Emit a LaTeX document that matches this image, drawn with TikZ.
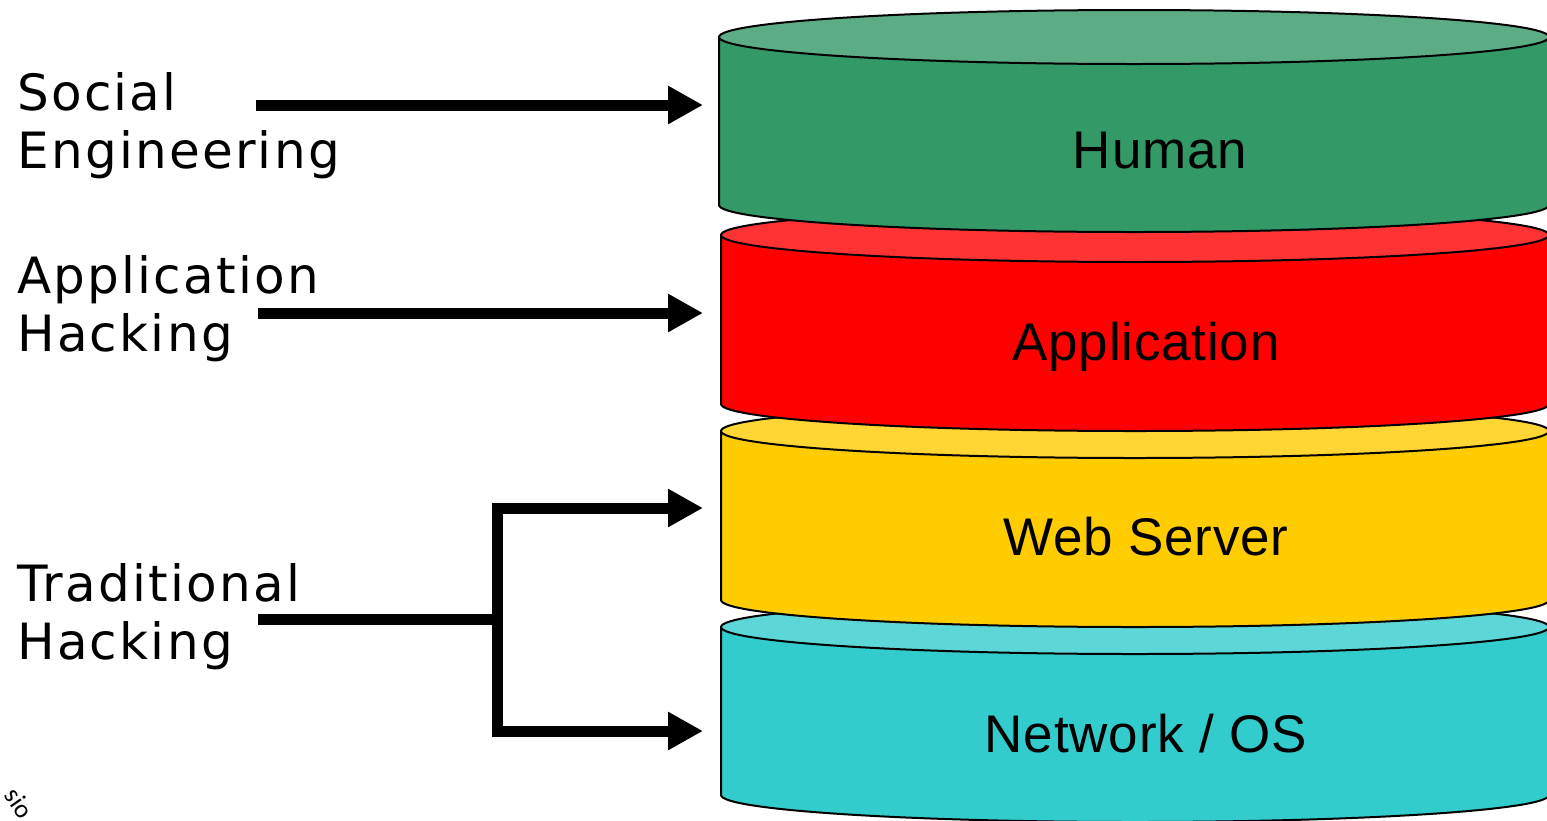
\documentclass[tikz,border=0pt]{standalone}
\usepackage{fontspec}
\usetikzlibrary{arrows.meta}
\newfontfamily\labfont[LetterSpace=4.5]{DejaVu Sans}
\newfontfamily\wmfont{Carlito}
\newfontfamily\innfont[LetterSpace=1.5]{Liberation Sans}
\definecolor{humanbody}{RGB}{51,153,102}
\definecolor{humantop}{RGB}{92,173,133}
\definecolor{appbody}{RGB}{255,0,0}
\definecolor{apptop}{RGB}{255,51,51}
\definecolor{webbody}{RGB}{255,204,0}
\definecolor{webtop}{RGB}{255,214,51}
\definecolor{netbody}{RGB}{51,204,204}
\definecolor{nettop}{RGB}{92,214,214}
\tikzset{
  sidelabel/.style={anchor=base west, align=left, inner sep=0pt,
    font=\labfont\fontsize{50}{58}\selectfont},
  layerlabel/.style={anchor=base, inner sep=0pt,
    font=\innfont\fontsize{53}{60}\selectfont},
  attack/.style={line width=11pt, -{Triangle[length=35pt,width=36pt]}},
  bus/.style={line width=11pt, line join=miter},
}
% #1 left x, #2 top centre y, #3 bottom centre y, #4 body colour, #5 top colour
\newcommand{\layercyl}[5]{%
  \pgfmathsetmacro{\rxv}{(1549-#1)/2}%
  \pgfmathsetmacro{\cxv}{(1549+#1)/2}%
  \filldraw[fill=#4, draw=black, line width=2pt]
    (#1,-#2) -- (#1,-#3) arc[start angle=180, end angle=360, x radius=\rxv, y radius=27]
    -- (1549,-#2) -- cycle;
  \filldraw[fill=#5, draw=black, line width=2pt]
    (\cxv,-#2) ellipse[x radius=\rxv, y radius=27];
}
\begin{document}
\begin{tikzpicture}[x=1pt,y=1pt]
\useasboundingbox (0,0) rectangle (1547,-820);
\clip (0,0) rectangle (1547,-820);
\fill[white] (0,0) rectangle (1547,-820);

% cylinders, bottom first
\layercyl{721}{627}{795}{netbody}{nettop}
\layercyl{721}{431}{600}{webbody}{webtop}
\layercyl{721}{235}{404}{appbody}{apptop}
\layercyl{719}{37}{205}{humanbody}{humantop}

% layer labels
\node[layerlabel] (human) at (1160,-168) {Human};
\node[layerlabel] (app) at (1146,-360) {Application};
\node[layerlabel] (web) at (1146,-555) {Web Server};
\node[layerlabel] (net) at (1146,-752) {Network / OS};

% side labels (base = baseline of last line)
\node[sidelabel] (social) at (17,-168) {Social\\Engineering};
\node[sidelabel] (apphack) at (17,-351) {Application\\Hacking};
\node[sidelabel] (trad) at (17,-659) {Traditional\\Hacking};

% connector ends
\coordinate (socS) at (256,-105);
\coordinate (humanE) at (703,-105);
\coordinate (appS) at (258,-313);
\coordinate (appE) at (703,-313);
\coordinate (tradS) at (258,-619);
\coordinate (tradJ) at (497,-619);
\coordinate (webE) at (703,-508);
\coordinate (netE) at (703,-731);

\draw[attack] (socS) -- (humanE);
\draw[attack] (appS) -- (appE);
\draw[bus] (tradS) -- (tradJ);
\draw[attack, line join=miter] (tradJ) |- (webE);
\draw[attack, line join=miter] (tradJ) |- (netE);

% cropped watermark fragment
\node[rotate=-55, inner sep=0pt, font=\wmfont\fontsize{26}{26}\selectfont] (wm) at (19,-803) {sio};
\end{tikzpicture}
\end{document}
